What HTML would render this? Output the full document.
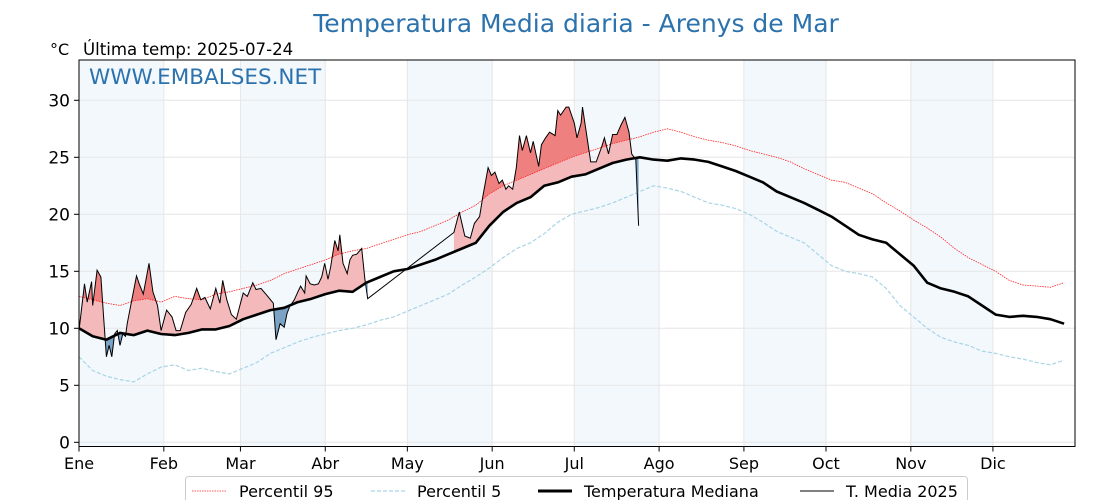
<!DOCTYPE html>
<html><head><meta charset="utf-8"><style>
body{margin:0;background:#fff;width:1120px;height:500px;overflow:hidden;font-family:"DejaVu Sans","Liberation Sans",sans-serif}
svg{display:block}
</style></head><body>
<svg id="chart" width="1120" height="500" font-family="DejaVu Sans, Liberation Sans, sans-serif">
<text x="576" y="32" text-anchor="middle" font-size="25" fill="#2c72ad">Temperatura Media diaria - Arenys de Mar</text>
<text x="50" y="55" font-size="16" fill="#000">°C</text>
<text x="83" y="55" font-size="16.6" fill="#000">Última temp: 2025-07-24</text>
<g id="plot"></g>
<text x="89" y="84" font-size="21.5" fill="#2c72ad">WWW.EMBALSES.NET</text>
<g>
<rect x="185.5" y="476.5" width="782" height="30" rx="3" fill="#fff" stroke="#ccc"/>
<g><line x1="192" y1="491" x2="226" y2="491" stroke="#f22" stroke-width="0.8" stroke-dasharray="1.5,1"/><text x="239" y="497" font-size="16">Percentil 95</text></g>
<g><line x1="371" y1="491" x2="405" y2="491" stroke="#a8d4e6" stroke-width="1.2" stroke-dasharray="4,2"/><text x="417" y="497" font-size="16">Percentil 5</text></g>
<g><line x1="538" y1="491" x2="572" y2="491" stroke="#000" stroke-width="3"/><text x="584" y="497" font-size="16">Temperatura Mediana</text></g>
<g><line x1="800" y1="491" x2="834" y2="491" stroke="#000" stroke-width="1"/><text x="846" y="497" font-size="16">T. Media 2025</text></g>
</g>
</svg>
<script>
const monthLabels=["Ene","Feb","Mar","Abr","May","Jun","Jul","Ago","Sep","Oct","Nov","Dic"];
const monthStarts=[0,31,59,90,120,151,181,212,243,273,304,334];
const yTicks=[0,5,10,15,20,25,30];
const stepDays=5;
const median=[10,9.3,9.0,9.6,9.4,9.8,9.5,9.4,9.6,9.9,9.9,10.2,10.8,11.2,11.6,11.8,12.3,12.6,13.0,13.3,13.2,14.0,14.5,15.0,15.2,15.6,16.0,16.5,17.0,17.5,19.0,20.2,21.0,21.5,22.5,22.8,23.3,23.5,24.0,24.5,24.8,25.0,24.8,24.7,24.9,24.8,24.6,24.2,23.8,23.3,22.8,22.0,21.5,21.0,20.4,19.8,19.0,18.2,17.8,17.5,16.5,15.5,14.0,13.5,13.2,12.8,12.0,11.2,11.0,11.1,11.0,10.8,10.4];
const p95=[12.8,12.5,12.2,12.0,12.4,12.6,12.3,12.8,12.6,12.5,13.0,13.2,13.5,13.8,14.2,14.8,15.2,15.6,16.0,16.5,16.8,17.0,17.4,17.8,18.2,18.5,19.0,19.5,20.2,20.8,21.8,22.5,23.0,23.5,24.0,24.5,25.0,25.4,25.8,26.2,26.5,26.8,27.2,27.5,27.2,26.8,26.5,26.3,26.0,25.6,25.3,25.0,24.6,24.0,23.5,23.0,22.8,22.3,21.8,21.0,20.3,19.5,18.8,18.0,17.0,16.2,15.6,15.0,14.2,13.8,13.7,13.6,14.0];
const p5=[7.5,6.3,5.8,5.5,5.3,6.0,6.6,6.8,6.3,6.5,6.2,6.0,6.5,7.0,7.8,8.3,8.8,9.2,9.5,9.8,10.0,10.3,10.7,11.0,11.5,12.0,12.5,13.0,13.8,14.5,15.3,16.2,17.0,17.5,18.3,19.3,20.0,20.3,20.6,21.0,21.5,22.0,22.5,22.3,22.0,21.5,21.0,20.8,20.5,20.0,19.3,18.5,18.0,17.5,16.5,15.5,15.0,14.8,14.5,13.5,12.0,11.0,10.0,9.2,8.8,8.5,8.0,7.8,7.5,7.3,7.0,6.8,7.2];
const days2025a=[0,2,3,4.6,5,6.6,8,9,10,11,12,13,14,15,16,17,17.6,21,22,23.5,25.6,27,28.7,30,32,34,35.5,37,39,41,43,44.5,46,48,50,51.5,52.5,54,55.7,57.5,58.7,60,61.5,63.5,64.7,66.5,69,71,72,73.5,75,76,77,78.7,80,81,82.5,83,84.5,86,87.5,88.7,89.8,91,92,93.5,94.7,95.3,96.5,98,99,100,101.5,103.3,104.5,105.5];
const temps2025a=[9.8,13.9,12.3,14.1,12.0,15.1,14.5,11.0,7.5,8.5,7.5,9.5,9.8,8.5,9.5,9.3,10.4,14.6,13.9,13.0,15.7,13.2,12.0,9.8,11.6,11.0,9.8,9.8,11.4,12.1,13.5,12.5,12.7,11.7,13.5,12.2,14.2,12.5,11.2,10.8,11.9,13.1,12.8,14.0,13.4,13.5,12.8,12.2,9.0,10.4,10.1,11.3,11.9,12.5,13.2,13.7,13.1,14.6,13.9,13.8,13.9,14.5,15.7,14.3,15.4,17.7,16.8,18.2,15.7,14.8,16.0,16.4,16.5,17.0,14.3,12.6];
const days2025b=[137,139,141,143,144.5,146.4,147.6,149.5,150.7,152,153.5,154.7,156,157,158.5,159.8,161,162,163.5,165,166,168,169,170.5,172,174,175,176,178,179,181,182,183.5,184,185.5,187,189,191,192,193.5,195,196.6,198,199.5,201,202,203.5,204.5];
const temps2025b=[18.4,20.2,18.1,17.9,19.2,19.8,21.6,24.1,23.4,23.7,22.7,23.0,22.2,22.5,22.2,24.1,26.9,25.6,26.9,25.4,26.4,24.2,26.1,26.7,27.2,26.9,29.1,28.7,29.4,29.4,28.0,26.7,28.0,29.4,27.0,24.6,24.6,25.9,26.7,25.3,27.0,27.0,27.8,28.5,27.2,25.3,24.8,19.0];

const X0=79,X1=1075,Y0=60,Y1=446.5;
const xs=d=>X0+d*(X1-X0)/364;
const ys=v=>442.3-v*11.4;
const NS="http://www.w3.org/2000/svg";
const plot=document.getElementById('plot');
function mk(tag,attrs,parent){const e=document.createElementNS(NS,tag);for(const k in attrs)e.setAttribute(k,attrs[k]);(parent||plot).appendChild(e);return e;}
function pts(days,vals){return days.map((d,i)=>xs(d).toFixed(1)+','+ys(vals[i]).toFixed(1));}
const stepDaysArr=median.map((_,i)=>i*stepDays);
function interp(arr,d){const f=d/stepDays,i=Math.min(Math.floor(f),arr.length-2),t=f-i;return arr[i]+(arr[i+1]-arr[i])*t;}

const bg=mk('rect',{x:X0,y:Y0,width:X1-X0,height:Y1-Y0,fill:'#fff'});


for(let m=0;m<12;m+=2){
  const e=m<11?monthStarts[m+1]:365;
  const r=mk('rect',{x:xs(monthStarts[m]),y:Y0,width:xs(e)-xs(monthStarts[m]),height:Y1-Y0,fill:'#f3f8fc'});
  
  
}
yTicks.forEach(v=>{
  const l=mk('line',{x1:X0,x2:X1,y1:ys(v),y2:ys(v),stroke:'#e6e6e6','stroke-width':1});
  
  
  const t=mk('line',{x1:X0-5,x2:X0,y1:ys(v),y2:ys(v),stroke:'#000'});
  
  
  const tx=mk('text',{x:X0-9,y:ys(v)+6,'text-anchor':'end','font-size':17,fill:'#000'});
  tx.textContent=v;
  
  
});
monthStarts.forEach((d,i)=>{
  const l=mk('line',{x1:xs(d),x2:xs(d),y1:Y0,y2:Y1,stroke:'#e6e6e6','stroke-width':1});
  
  
  const t=mk('line',{x1:xs(d),x2:xs(d),y1:Y1,y2:Y1+5,stroke:'#000'});
  
  
  const tx=mk('text',{x:xs(d),y:469,'text-anchor':'middle','font-size':16,fill:'#000'});
  tx.textContent=monthLabels[i];
  
  
});

const defs=mk('defs',{});
function clipFor(id,arr,above){
  const c=mk('clipPath',{id:id},defs);
  const p=pts(stepDaysArr,arr);
  const edge=above?Y0-10:Y1+10;
  mk('polygon',{points:[xs(0)+','+edge].concat(p,[xs(365)+','+edge]).join(' ')},c);
}
clipFor('aboveMed',median,true);
clipFor('belowMed',median,false);
clipFor('aboveP95',p95,true);

function fillSeg(days,vals,ref,clip,color,name){
  const refVals=days.map(d=>interp(ref,d));
  const poly=pts(days,vals).concat(pts(days,refVals).reverse());
  const e=mk('polygon',{points:poly.join(' '),fill:color,'clip-path':'url(#'+clip+')','fill-rule':'evenodd'});
  
  
}
[[days2025a,temps2025a],[days2025b,temps2025b]].forEach(([d,v],k)=>{
  fillSeg(d,v,median,'aboveMed','#f4b9bb','fill-above-median-'+k);
  fillSeg(d,v,median,'belowMed','#7aa3c6','fill-below-median-'+k);
  fillSeg(d,v,p95,'aboveP95','#ef8080','fill-above-p95-'+k);
});

const lp95=mk('polyline',{points:pts(stepDaysArr,p95).join(' '),fill:'none',stroke:'#f22','stroke-width':0.8,'stroke-dasharray':'1.5,1'});


const lp5=mk('polyline',{points:pts(stepDaysArr,p5).join(' '),fill:'none',stroke:'#a8d4e6','stroke-width':1.2,'stroke-dasharray':'4,2'});


const lmed=mk('polyline',{points:pts(stepDaysArr,median).join(' '),fill:'none',stroke:'#000','stroke-width':2.6,'stroke-linejoin':'round'});


const l25=mk('polyline',{points:pts(days2025a.concat(days2025b),temps2025a.concat(temps2025b)).join(' '),fill:'none',stroke:'#000','stroke-width':1});



const frame=mk('rect',{x:X0,y:Y0,width:X1-X0,height:Y1-Y0,fill:'none',stroke:'#000','stroke-width':1});


</script>
</body></html>
